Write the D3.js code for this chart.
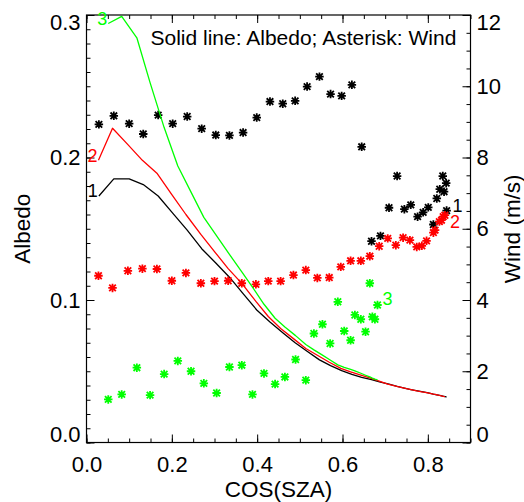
<!DOCTYPE html>
<html>
<head>
<meta charset="utf-8">
<script src="https://cdn.jsdelivr.net/npm/d3@7"></script>
<style>
  html, body { margin: 0; padding: 0; background: #fff; }
  svg { display: block; font-family: "Liberation Sans", Arial, Helvetica, sans-serif; }
</style>
</head>
<body>
<svg id="chart" width="524" height="502"></svg>
<script>
// Case 1 (black)
const blackCos = [0.029,0.064,0.100,0.133,0.168,0.202,0.236,0.270,0.303,0.335,0.367,0.399,0.430,0.460,0.489,0.517,0.546,0.572,0.598,0.622,0.645,0.668,0.689,0.709,0.728,0.745,0.760,0.776,0.789,0.801,0.813,0.821,0.828,0.835,0.838,0.843,0.844];
const blackAlbedo = [0.173,0.185,0.185,0.181,0.173,0.161,0.149,0.136,0.126,0.116,0.1045,0.093,0.0845,0.077,0.070,0.064,0.058,0.054,0.0504,0.0478,0.0457,0.0441,0.0424,0.041,0.0394,0.0382,0.0371,0.0362,0.0355,0.0349,0.034,0.0335,0.033,0.0325,0.0323,0.032,0.032];
const blackWind = [8.93,9.17,8.95,8.66,9.19,8.95,9.15,8.81,8.63,8.62,8.70,9.12,9.57,9.51,9.59,9.99,10.27,9.78,9.73,10.04,8.30,5.65,5.80,6.59,7.48,6.55,6.67,6.34,6.46,6.60,6.12,6.85,7.11,7.48,7.04,7.28,6.51];

// Case 2 (red)
const redCos = [0.028,0.061,0.097,0.131,0.165,0.200,0.233,0.268,0.300,0.332,0.364,0.397,0.426,0.455,0.485,0.514,0.541,0.569,0.596,0.619,0.643,0.664,0.686,0.706,0.725,0.742,0.758,0.774,0.786,0.797,0.813,0.817,0.827,0.832,0.836,0.840];
const redAlbedo = [0.198,0.2205,0.209,0.198,0.189,0.174,0.160,0.146,0.134,0.122,0.1117,0.099,0.0884,0.080,0.0729,0.066,0.0612,0.0563,0.052,0.0496,0.0473,0.0453,0.043,0.041,0.0395,0.0383,0.0372,0.0362,0.0356,0.035,0.034,0.0338,0.033,0.0327,0.0324,0.0322];
const redWind = [4.68,4.34,4.82,4.88,4.87,4.54,4.76,4.47,4.53,4.54,4.47,4.44,4.53,4.53,4.70,4.84,4.62,4.63,4.93,5.10,5.10,5.23,5.51,5.73,5.54,5.75,5.68,5.49,5.52,5.66,5.89,5.96,6.20,6.24,6.34,6.38];

// Case 3 (green)
const greenCos = [0.051,0.0825,0.118,0.149,0.182,0.214,0.245,0.275,0.305,0.335,0.364,0.389,0.416,0.442,0.465,0.490,0.514,0.533,0.553,0.571,0.589,0.604,0.619,0.629,0.643,0.654,0.664,0.670,0.676,0.682];
const greenAlbedo = [0.294,0.299,0.284,0.2525,0.221,0.194,0.1757,0.158,0.145,0.132,0.1198,0.109,0.097,0.0872,0.081,0.075,0.0688,0.065,0.0613,0.0579,0.0545,0.0527,0.0513,0.0503,0.0486,0.0472,0.046,0.0452,0.0445,0.044];
const greenWind = [1.21,1.35,2.10,1.33,1.92,2.29,2.00,1.66,1.39,2.12,2.17,1.35,1.94,1.64,1.84,2.33,1.75,3.06,3.32,2.78,3.95,3.13,2.87,3.58,3.46,3.11,4.47,3.53,3.46,3.86];

const seriesNames = ["1", "2", "3"];
const xTicks = [0.0, 0.2, 0.4, 0.6, 0.8];
const albedoTicks = [0.0, 0.1, 0.2, 0.3];
const windTicks = [0, 2, 4, 6, 8, 10, 12];
const legendText = "Solid line: Albedo; Asterisk: Wind";

const series = [
  { name: seriesNames[0], color: "#000000", cos: blackCos, albedo: blackAlbedo, wind: blackWind, endDx: 6, endDy: 1 },
  { name: seriesNames[1], color: "#ff0000", cos: redCos, albedo: redAlbedo, wind: redWind, endDx: 5, endDy: 12.5 },
  { name: seriesNames[2], color: "#00ff00", cos: greenCos, albedo: greenAlbedo, wind: greenWind, endDx: 5, endDy: 0.5 }
];

const L = 86.5, R = 470.5, T = 15, B = 442.5;
const svg = d3.select("#chart");

const x = d3.scaleLinear().domain([0, 0.9]).range([L, R]);
const yA = d3.scaleLinear().domain([0, 0.3]).range([B, T]);
const yW = d3.scaleLinear().domain([0, 12]).range([B, T]);

const fontSize = 22;

function styleAxis(g) {
  g.select(".domain").remove();
  g.selectAll("line").attr("stroke", "#000").attr("stroke-width", 1);
  g.selectAll("text").attr("fill", "#000").attr("font-size", fontSize)
    .attr("font-family", "Liberation Sans, Arial, Helvetica, sans-serif");
}

// Bottom axis: minor every 0.05, major every 0.2, ticks point inward
const xMinor = d3.range(0, 0.9001, 0.05);
svg.append("g").attr("transform", `translate(0,${B})`)
  .call(d3.axisBottom(x).tickValues(xMinor).tickSize(-4).tickFormat(""))
  .call(styleAxis);
svg.append("g").attr("transform", `translate(0,${B})`)
  .call(d3.axisBottom(x).tickValues(xTicks).tickSize(-8).tickPadding(13.5).tickFormat(d3.format(".1f")))
  .call(styleAxis);
// Top axis mirrors bottom ticks, no labels
svg.append("g").attr("transform", `translate(0,${T})`)
  .call(d3.axisTop(x).tickValues(xMinor).tickSize(-4).tickFormat(""))
  .call(styleAxis);
svg.append("g").attr("transform", `translate(0,${T})`)
  .call(d3.axisTop(x).tickValues(xTicks).tickSize(-8).tickFormat(""))
  .call(styleAxis);

// Left albedo axis
const aMinor = d3.range(0, 0.3001, 0.01);
svg.append("g").attr("transform", `translate(${L},0)`)
  .call(d3.axisLeft(yA).tickValues(aMinor).tickSize(-4).tickFormat(""))
  .call(styleAxis);
const leftAxis = svg.append("g").attr("transform", `translate(${L},0)`)
  .call(d3.axisLeft(yA).tickValues(albedoTicks).tickSize(-8).tickPadding(6).tickFormat(d3.format(".1f")))
  .call(styleAxis);

// Right wind axis
const wMinor = d3.range(0, 12.001, 0.5);
svg.append("g").attr("transform", `translate(${R},0)`)
  .call(d3.axisRight(yW).tickValues(wMinor).tickSize(-4).tickFormat(""))
  .call(styleAxis);
const rightAxis = svg.append("g").attr("transform", `translate(${R},0)`)
  .call(d3.axisRight(yW).tickValues(windTicks).tickSize(-8).tickPadding(6).tickFormat(d3.format("d")))
  .call(styleAxis);

// keep end labels inside the frame's vertical extent
function clampEnds(axisG, lo, hi) {
  axisG.selectAll(".tick text").attr("dy", d => d === hi ? "0.68em" : (d === lo ? "-0.04em" : "0.32em"));
}
clampEnds(leftAxis, 0, 0.3);
clampEnds(rightAxis, 0, 12);

// Frame
svg.append("rect").attr("x", L).attr("y", T).attr("width", R - L).attr("height", B - T)
  .attr("fill", "none").attr("stroke", "#000").attr("stroke-width", 1.2);

// Axis titles
svg.append("text").attr("x", (L + R) / 2).attr("y", 496.5).attr("text-anchor", "middle")
  .attr("font-size", fontSize + 0.5).text("COS(SZA)");
svg.append("text").attr("transform", `translate(29.5,${(T + B) / 2}) rotate(-90)`)
  .attr("text-anchor", "middle").attr("font-size", fontSize + 0.5).text("Albedo");
svg.append("text").attr("transform", `translate(519.5,${(T + B) / 2}) rotate(-90)`)
  .attr("text-anchor", "middle").attr("font-size", fontSize + 0.5).text("Wind (m/s)");

// Legend text
svg.append("text").attr("x", 150.5).attr("y", 44.5).attr("font-size", 21).text(legendText);

// Asterisk symbol (plus + cross)
const asterisk = {
  draw(ctx, size) {
    const r = Math.sqrt(size) / 2;
    const d = r * 0.78;
    ctx.moveTo(-r, 0); ctx.lineTo(r, 0);
    ctx.moveTo(0, -r); ctx.lineTo(0, r);
    ctx.moveTo(-d, -d); ctx.lineTo(d, d);
    ctx.moveTo(-d, d); ctx.lineTo(d, -d);
  }
};
const symbolPath = d3.symbol().type(asterisk).size(72)();

const line = d3.line().x(d => x(d.c)).y(d => yA(d.a));

series.forEach(s => {
  const pts = s.cos.map((c, i) => ({ c, a: s.albedo[i], w: s.wind[i] }));
  const g = svg.append("g");

  g.append("path").datum(pts).attr("d", line)
    .attr("fill", "none").attr("stroke", s.color).attr("stroke-width", 1.3)
    .attr("stroke-linejoin", "round");

  g.selectAll("path.star").data(pts).join("path").attr("class", "star")
    .attr("d", symbolPath)
    .attr("transform", d => `translate(${x(d.c)},${yW(d.w)})`)
    .attr("fill", "none").attr("stroke", s.color).attr("stroke-width", 1.8);

  // series number at start of albedo line
  const first = pts[0];
  g.append("text").attr("x", x(first.c) - 1).attr("y", yA(first.a) + 1.5)
    .attr("text-anchor", "end").attr("font-size", 18).attr("fill", s.color).text(s.name);

  // series number after last wind point
  const last = pts[pts.length - 1];
  g.append("text").attr("x", x(last.c) + s.endDx).attr("y", yW(last.w) + s.endDy)
    .attr("font-size", 18).attr("fill", s.color).text(s.name);
});
</script>
</body>
</html>
